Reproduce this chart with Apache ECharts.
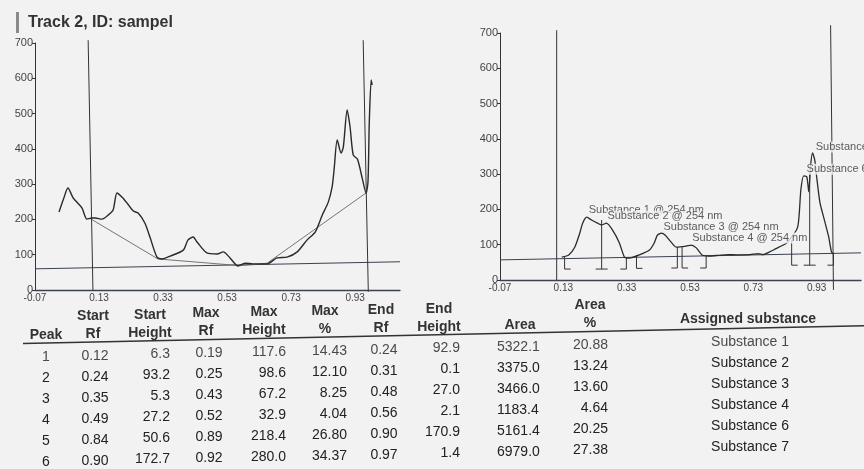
<!DOCTYPE html>
<html>
<head>
<meta charset="utf-8">
<script src="https://cdn.jsdelivr.net/npm/echarts@6/dist/echarts.min.js"></script>
<style>
html, body { margin: 0; padding: 0; background: #f2f2f2; }
#chart { width: 864px; height: 469px; }
</style>
</head>
<body>
<div id="chart"></div>
<script>
// x axis starts at Rf -0.07, ticks every 0.2
var rfStart = -0.07
var xTicks = ['-0.07', '0.13', '0.33', '0.53', '0.73', '0.93']

// Track 2 raw scan (Rf, AU)
var leftCurve = [[0.005,221],[0.018,255],[0.033,289],[0.049,261],[0.064,246],[0.077,232],[0.092,201],[0.108,204],[0.118,204],[0.139,201],[0.158,212],[0.174,227],[0.186,275],[0.202,263],[0.218,246],[0.237,224],[0.252,218],[0.273,190],[0.289,150],[0.311,93],[0.327,88],[0.352,96],[0.393,113],[0.408,142],[0.424,150],[0.436,136],[0.467,105],[0.499,102],[0.518,108],[0.539,91],[0.564,68],[0.586,76],[0.611,74],[0.655,74],[0.686,91],[0.717,93],[0.749,108],[0.78,142],[0.805,164],[0.827,212],[0.846,249],[0.858,292],[0.864,340],[0.874,425],[0.886,388],[0.893,405],[0.905,510],[0.914,462],[0.924,382],[0.937,371],[0.952,317],[0.964,275],[0.97,306],[0.974,473],[0.98,595],[0.983,581]]
var leftBaseline = [[-0.07,60],[1.07,80]]
var leftPeakBase = [[0.105,201],[0.314,88],[0.57,69],[0.655,76],[0.964,275]]
var leftFront = [[[0.096,708],[0.111,0]], [[0.955,708],[0.971,-5]]]

// Track 2 integrated scan
var rightCurve = [[0.125,65],[0.147,71],[0.166,93],[0.182,133],[0.191,161],[0.204,178],[0.219,170],[0.238,161],[0.251,156],[0.266,161],[0.285,142],[0.307,105],[0.323,65],[0.339,62],[0.37,71],[0.402,85],[0.417,105],[0.427,127],[0.44,133],[0.452,127],[0.47,108],[0.487,93],[0.518,96],[0.534,99],[0.55,91],[0.568,71],[0.59,68],[0.62,70],[0.65,72],[0.68,71],[0.72,72],[0.745,75],[0.76,72],[0.78,79],[0.80,88],[0.82,97],[0.836,105],[0.87,150],[0.88,255],[0.889,295],[0.899,292],[0.905,250],[0.911,326],[0.917,360],[0.924,340],[0.93,292],[0.94,221],[0.952,178],[0.968,122],[0.977,79],[0.985,74]]
var rightBaseline = [[-0.07,57],[1.07,77]]
var rightFront = [[[0.109,708],[0.109,0]], [[0.974,722],[0.983,-28]]]
// peak limits: [Rf, top, bottom, kind] kind 0 start, 1 end, 2 shared
var rightMarks = [[0.134,65,31,0],[0.251,170,31,2],[0.329,65,31,1],[0.361,71,33,0],[0.49,93,34,1],[0.505,93,34,0],[0.581,71,34,1],[0.851,113,42,0],[0.908,300,42,2],[0.983,76,42,1]]
var labelNames = ['Substance 1 @ 254 nm','Substance 2 @ 254 nm','Substance 3 @ 254 nm','Substance 4 @ 254 nm','Substance 6 @ 254 nm','Substance 7 @ 254 nm']
var labelPos = [[0.207,198],[0.266,181],[0.443,150],[0.534,119],[0.895,314],[0.924,377]]

// peak table
var peaks = ['1','2','3','4','5','6']
var startRf = ['0.12','0.24','0.35','0.49','0.84','0.90']
var startHeight = ['6.3','93.2','5.3','27.2','50.6','172.7']
var maxRf = ['0.19','0.25','0.43','0.52','0.89','0.92']
var maxHeight = ['117.6','98.6','67.2','32.9','218.4','280.0']
var maxPct = ['14.43','12.10','8.25','4.04','26.80','34.37']
var endRf = ['0.24','0.31','0.48','0.56','0.90','0.97']
var endHeight = ['92.9','0.1','27.0','2.1','170.9','1.4']
var area = ['5322.1','3375.0','3466.0','1183.4','5161.4','6979.0']
var areaPct = ['20.88','13.24','13.60','4.64','20.25','27.38']
var assigned = ['Substance 1','Substance 2','Substance 3','Substance 4','Substance 6','Substance 7']

var bg = '#f2f2f2'
var font = '"Liberation Sans", Arial, sans-serif'

function shift(pts) {
    return pts.map(function (p) { return [p[0] - rfStart, p[1]] })
}

function lineSeries(idx, pts, color, width, z, smooth) {
    return {
        type: 'line', xAxisIndex: idx, yAxisIndex: idx,
        data: shift(pts), showSymbol: false, symbol: 'none', clip: false,
        smooth: smooth || false,
        lineStyle: { color: color, width: width }, z: z || 2, silent: true
    }
}

function xAxis(idx) {
    return {
        type: 'value', gridIndex: idx, min: 0, max: 1.14, interval: 0.2,
        axisLine: { show: true, lineStyle: { color: '#3c4250', width: 1.3 } },
        axisTick: { show: false }, splitLine: { show: false },
        axisLabel: {
            color: '#444', fontSize: 10, fontFamily: font, margin: 3,
            formatter: function (v) {
                var i = Math.round(v / 0.2)
                return Math.abs(v - i * 0.2) < 1e-6 && xTicks[i] ? xTicks[i] : ''
            }
        }
    }
}

function yAxis(idx) {
    return {
        type: 'value', gridIndex: idx, min: 0, max: 700, interval: 100,
        axisLine: { show: true, lineStyle: { color: '#333', width: 1 } },
        axisTick: { show: true, length: 3, lineStyle: { color: '#333' } },
        splitLine: { show: false },
        axisLabel: { color: '#444', fontSize: 11, fontFamily: font, margin: 2 }
    }
}

var series = [
    lineSeries(0, leftBaseline, '#3a4150', 1),
    lineSeries(0, leftPeakBase, '#666', 0.9),
    lineSeries(0, leftCurve, '#2a2a2a', 1.4, 3, 0.25),
    lineSeries(1, rightBaseline, '#3a4150', 1),
    lineSeries(1, rightCurve, '#2a2a2a', 1.3, 3, 0.2)
]
leftFront.forEach(function (l) { series.push(lineSeries(0, l, '#333', 1)) })
rightFront.forEach(function (l) { series.push(lineSeries(1, l, '#333', 1)) })

series.push({
    type: 'custom', xAxisIndex: 1, yAxisIndex: 1, silent: true, z: 3,
    data: rightMarks.map(function (m) { return [m[0] - rfStart, m[1], m[2], m[3]] }),
    renderItem: function (params, api) {
        var x = api.value(0), kind = api.value(3)
        var p1 = api.coord([x, api.value(1)])
        var p2 = api.coord([x, api.value(2)])
        var a = p2[0], b = p2[0]
        if (kind === 0) b += 6
        else if (kind === 1) a -= 6
        else { a -= 6; b += 6 }
        var st = { stroke: '#333', lineWidth: 1 }
        return {
            type: 'group', children: [
                { type: 'line', shape: { x1: p1[0], y1: p1[1], x2: p2[0], y2: p2[1] }, style: st },
                { type: 'line', shape: { x1: a, y1: p2[1], x2: b, y2: p2[1] }, style: st }
            ]
        }
    }
})

series.push({
    type: 'scatter', xAxisIndex: 1, yAxisIndex: 1, symbolSize: 0, silent: true, z: 6,
    data: labelNames.map(function (n, i) { return { name: n, value: [labelPos[i][0] - rfStart, labelPos[i][1]] } }),
    label: {
        show: true, position: [0, 0], align: 'left', verticalAlign: 'middle',
        formatter: '{b}', color: '#333', fontSize: 11, fontFamily: font,
        backgroundColor: bg, padding: [0, 1]
    }
})

// table text, the scan is slightly tilted
var tilt = 0.021
var columns = [
    { head: ['', 'Peak'], hx: 46, vals: peaks, x: 46, align: 'center' },
    { head: ['Start', 'Rf'], hx: 93, vals: startRf, x: 95, align: 'center' },
    { head: ['Start', 'Height'], hx: 150, vals: startHeight, x: 170, align: 'right' },
    { head: ['Max', 'Rf'], hx: 206, vals: maxRf, x: 209, align: 'center' },
    { head: ['Max', 'Height'], hx: 264, vals: maxHeight, x: 286, align: 'right' },
    { head: ['Max', '%'], hx: 325, vals: maxPct, x: 347, align: 'right' },
    { head: ['End', 'Rf'], hx: 381, vals: endRf, x: 384, align: 'center' },
    { head: ['End', 'Height'], hx: 439, vals: endHeight, x: 460, align: 'right' },
    { head: ['', 'Area'], hx: 520, vals: area, x: 497, align: 'left' },
    { head: ['Area', '%'], hx: 590, vals: areaPct, x: 608, align: 'right' },
    { head: ['', 'Assigned substance'], hx: 748, vals: assigned, x: 750, align: 'center' }
]

function txt(s, x, y, align, f, color) {
    return {
        type: 'text', x: x, y: y, silent: true,
        style: {
            text: s, font: f, fill: color,
            align: align, verticalAlign: 'middle', textAlign: align, textVerticalAlign: 'middle'
        }
    }
}

var graphics = [
    { type: 'rect', shape: { x: 16, y: 12, width: 3, height: 21 }, style: { fill: '#8a8a8a' } },
    txt('Track 2, ID: sampel', 28, 23, 'left', 'bold 16px ' + font, '#333'),
    { type: 'line', shape: { x1: 23, y1: 343.5, x2: 864, y2: 343.5 - tilt * 841 }, style: { stroke: '#333', lineWidth: 1.5 } }
]
columns.forEach(function (c) {
    var dy = -tilt * (c.hx - 46)
    if (c.head[0]) graphics.push(txt(c.head[0], c.hx, 317 + dy, 'center', 'bold 14px ' + font, '#333'))
    graphics.push(txt(c.head[1], c.hx, 335 + dy + (c.hx > 700 ? -1 : 0), 'center', 'bold 14px ' + font, '#333'))
    c.vals.forEach(function (v, i) {
        var y = 357 + 21 * i - tilt * (c.x - 46)
        graphics.push(txt(v, c.x, y, c.align, '14px ' + font, i === 0 ? '#4a4a4a' : '#222'))
    })
})

var myChart = echarts.init(document.getElementById('chart'))
var option = {
    backgroundColor: bg,
    animation: false,
    grid: [
        { left: 35, top: 43, right: 464, bottom: 179 },
        { left: 500, top: 33, right: 2, bottom: 189 }
    ],
    xAxis: [xAxis(0), xAxis(1)],
    yAxis: [yAxis(0), yAxis(1)],
    series: series,
    graphic: graphics
}
myChart.setOption(option)
</script>
</body>
</html>
